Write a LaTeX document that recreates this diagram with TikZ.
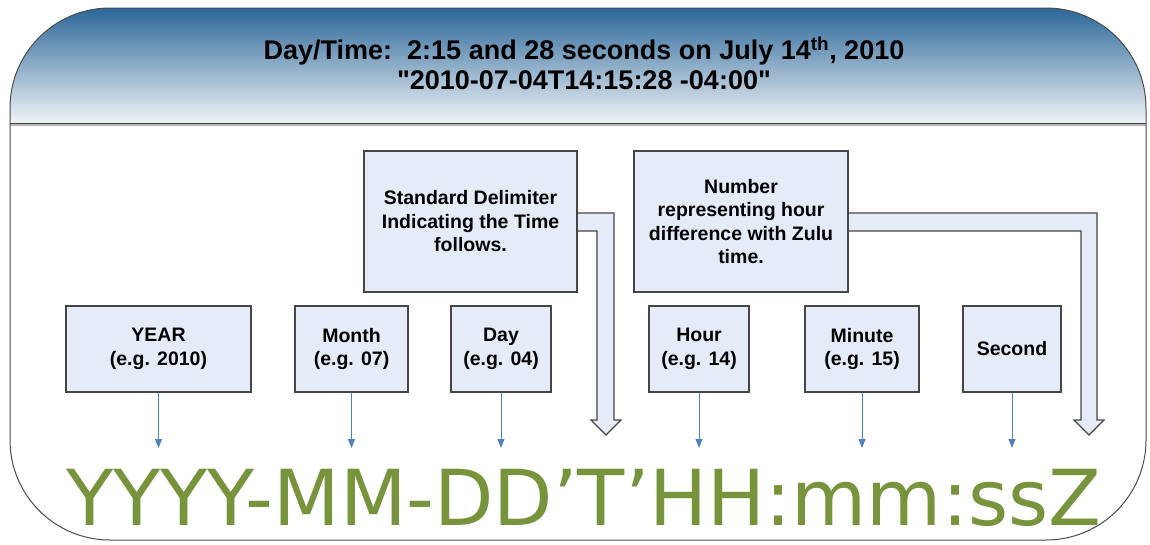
\documentclass[tikz,border=0pt]{standalone}
\usepackage{fontspec}
\usepackage{graphicx}
\setmainfont{Liberation Sans}[Ligatures=TeXOff]
\newfontfamily\bigfont{DejaVu Sans}
\usetikzlibrary{arrows.meta,calc}
\definecolor{boxfill}{RGB}{229,236,247}
\definecolor{boxline}{RGB}{70,70,70}
\definecolor{hdrtop}{RGB}{30,93,145}
\definecolor{hdrbot}{RGB}{240,244,248}
\definecolor{arrowblue}{RGB}{79,129,189}
\definecolor{fmtgreen}{RGB}{119,147,60}
\pgfdeclarelayer{bg}
\pgfsetlayers{bg,main}
\begin{document}
\begin{tikzpicture}[x=1pt,y=-1pt,
  lbox/.style={draw=boxline, line width=1.2pt, fill=boxfill, align=center, inner sep=0pt,
    font=\bfseries\fontsize{19.5}{23.5}\selectfont},
  ptr/.style={draw=arrowblue, line width=1pt, -{Triangle[width=7pt,length=9pt]}},
  bigarrow/.style={draw=boxline, line width=1.2pt, fill=boxfill, line join=miter}
]
\useasboundingbox (0,0) rectangle (1150,544);
% header band
\begin{scope}
  \clip[rounded corners=100pt] (10,8) rectangle (1146,540);
  \shade[top color=hdrtop, bottom color=hdrbot] (0,0) rectangle (1150,123);
\end{scope}
\draw[gray!55, line width=2.4pt] (10,124.5) -- (1146,124.5);
\draw[black!75, line width=0.8pt] (10,123) -- (1146,123);
\draw[black!70, line width=1pt, rounded corners=100pt] (10,8) rectangle (1146,540);

\node[font=\bfseries\fontsize{27}{30}\selectfont, align=center] (hdr) at (584,63)
  {Day/Time:\ \ 2:15 and 28 seconds on July 14\textsuperscript{th}, 2010\\"2010-07-04T14:15:28 -04:00"};

% boxes
\node[lbox, minimum width=213pt, minimum height=141pt] (delim) at (470.5,221.5)
  {Standard Delimiter\\Indicating the Time\\follows.};
\node[lbox, minimum width=214pt, minimum height=141pt] (zone) at (741,221.5)
  {Number\\representing hour\\difference with Zulu\\time.};
\node[lbox, minimum width=185pt, minimum height=86pt] (year) at (158.5,349) {YEAR\\(e.g. 2010)};
\node[lbox, minimum width=113pt, minimum height=86pt] (month) at (351.5,349) {Month\\(e.g. 07)};
\node[lbox, minimum width=100pt, minimum height=86pt] (day) at (501,349) {Day\\(e.g. 04)};
\node[lbox, minimum width=100pt, minimum height=86pt] (hour) at (699,349) {Hour\\(e.g. 14)};
\node[lbox, minimum width=114pt, minimum height=86pt] (minute) at (862,349) {Minute\\(e.g. 15)};
\node[lbox, minimum width=98pt, minimum height=86pt] (second) at (1012,349) {Second};

% small arrows
\coordinate (tY) at (158.5,448);
\coordinate (tMo) at (351.5,448);
\coordinate (tD) at (501,448);
\coordinate (tH) at (699,448);
\coordinate (tMi) at (862,448);
\coordinate (tS) at (1012,448);
\draw[ptr] (year.south) -- (tY);
\draw[ptr] (month.south) -- (tMo);
\draw[ptr] (day.south) -- (tD);
\draw[ptr] (hour.south) -- (tH);
\draw[ptr] (minute.south) -- (tMi);
\draw[ptr] (second.south) -- (tS);

% big hollow arrows
\coordinate (tipT) at (606,435);
\coordinate (tipZ) at (1089,435);
\begin{pgfonlayer}{bg}
\draw[bigarrow] ($(delim.east)+(-2,-8.5)$) -- (614,213) -- (614,420) -- (621,420) -- (tipT)
  -- (591,420) -- (597,420) -- (597,231) -- ($(delim.east)+(-2,9.5)$);
\draw[bigarrow] ($(zone.east)+(-2,-8.5)$) -- (1097,213) -- (1097,420) -- (1104,420) -- (tipZ)
  -- (1074,420) -- (1081,420) -- (1081,231) -- ($(zone.east)+(-2,9.5)$);
\end{pgfonlayer}

% format string
\node[anchor=base west, inner sep=0pt, text=fmtgreen] (fmt) at (66,525)
  {\resizebox{1034pt}{!}{\bigfont YYYY-MM-DD’T’HH:mm:ssZ}};
\end{tikzpicture}
\end{document}
